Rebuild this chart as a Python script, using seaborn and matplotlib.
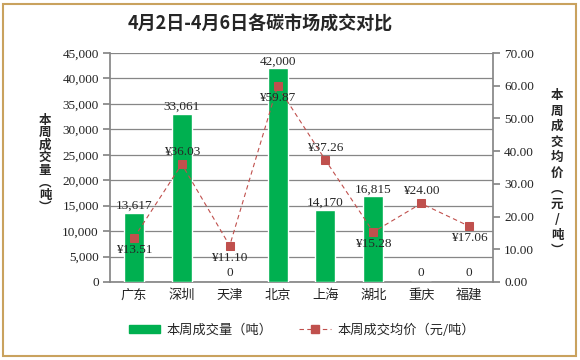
import matplotlib
matplotlib.use("Agg")
import matplotlib.pyplot as plt
import numpy as np
import seaborn as sns
from matplotlib.lines import Line2D
from matplotlib.patches import Patch, Rectangle
from matplotlib.ticker import FuncFormatter, MultipleLocator

# data
markets = ["广东", "深圳", "天津", "北京", "上海", "湖北", "重庆", "福建"]
volume = [13617, 33061, 0, 42000, 14170, 16815, 0, 0]
price = [13.51, 36.03, 11.10, 59.87, 37.26, 15.28, 24.00, 17.06]
price_label_side = ["below", "above", "below", "below", "above", "below", "above", "below"]

sns.set_theme(style="white")
plt.rcParams["font.family"] = ["Noto Sans CJK SC", "DejaVu Sans"]
num_font = "Liberation Serif"

fig = plt.figure(figsize=(5.8, 3.6), dpi=100)
ax = fig.add_axes([110 / 580, 1 - 282 / 360, 383 / 580, 229 / 360])
ax2 = ax.twinx()

green = "#00B050"
red = "#C0504D"
grey = "#868686"

x = np.arange(len(markets))
sns.barplot(x=x, y=volume, color=green, width=0.42, saturation=1, ax=ax, zorder=3)
sns.lineplot(x=x, y=price, ax=ax2, color=red, linestyle=(0, (4, 3)), linewidth=0.8,
             marker="s", markersize=6, markeredgecolor=red, markerfacecolor=red, zorder=4)

ax.set_xlim(-0.5, len(markets) - 0.5)
ax.set_ylim(0, 45000)
ax2.set_ylim(0, 70)
ax.yaxis.set_major_locator(MultipleLocator(5000))
ax2.yaxis.set_major_locator(MultipleLocator(10))
ax.yaxis.set_major_formatter(FuncFormatter(lambda v, p: f"{v:,.0f}"))
ax2.yaxis.set_major_formatter(FuncFormatter(lambda v, p: f"{v:.2f}"))

ax.grid(axis="y", color=grey, linewidth=0.9, zorder=0)
ax.set_axisbelow(True)
for a in (ax, ax2):
    for s in a.spines.values():
        s.set_visible(False)
ax.spines["left"].set_visible(True)
ax.spines["left"].set_color(grey)
ax.spines["bottom"].set_visible(True)
ax.spines["bottom"].set_color(grey)
ax2.spines["right"].set_visible(True)
ax2.spines["right"].set_color(grey)

ax.set_xticks(x)
ax.set_xticklabels(markets, fontsize=9.5, color="#222222")
ax.set_xticks(np.arange(len(markets) + 1) - 0.5, minor=True)
ax.tick_params(axis="x", which="major", length=0, pad=5)
ax.tick_params(axis="x", which="minor", length=5, color=grey, direction="out")
ax.tick_params(axis="y", length=5, color=grey, direction="out", left=True, pad=3)
ax2.tick_params(axis="y", length=5, color=grey, direction="out", right=True, pad=3)
for lab in ax.get_yticklabels() + ax2.get_yticklabels():
    lab.set_fontfamily(num_font)
    lab.set_fontsize(9.5)
    lab.set_color("#222222")
ax.set_xlabel("")
ax.set_ylabel("")
ax2.set_ylabel("")

# bar value labels
for xi, v in zip(x, volume):
    off = 7 if v > 0 else 9
    ax.annotate(f"{v:,}", (xi, v), xytext=(0, off), textcoords="offset pixels",
                ha="center", va="center", fontfamily=num_font, fontsize=9.5)

# price labels
for xi, p, side in zip(x, price, price_label_side):
    off = 12 if side == "above" else -12
    ax2.annotate(f"¥{p:.2f}", (xi, p), xytext=(0, off), textcoords="offset pixels",
                 ha="center", va="center", fontfamily=num_font, fontsize=9.5, zorder=5)

# titles
fig.text(260 / 580, 1 - 24 / 360, "4月2日-4月6日各碳市场成交对比", ha="center", va="center",
         fontsize=13, fontweight="bold", family=["Noto Sans CJK SC", "DejaVu Sans"])
fig.text(45 / 580, 1 - 164 / 360, "\n".join("本周成交量︵吨︶"), ha="center", va="center",
         fontsize=9, fontweight="bold", linespacing=0.95)
fig.text(557 / 580, 1 - 173 / 360, "\n".join("本周成交均价︵元/吨︶"), ha="center", va="center",
         fontsize=9, fontweight="bold", linespacing=1.25)

handles = [Patch(facecolor=green, edgecolor=green),
           Line2D([0], [0], color=red, linestyle=(0, (4, 3)), linewidth=0.8,
                  marker="s", markersize=6, markerfacecolor=red, markeredgecolor=red)]
fig.legend(handles, ["本周成交量（吨）", "本周成交均价（元/吨）"], loc="center",
           bbox_to_anchor=(302 / 580, 1 - 330 / 360), ncol=2, frameon=False,
           fontsize=9.5, handlelength=2.4, handleheight=0.6, columnspacing=2.0,
           handletextpad=0.5)

fig.patches.append(Rectangle((3 / 580, 4 / 360), 573 / 580, 352 / 360,
                             transform=fig.transFigure, fill=False,
                             edgecolor="#C9A25E", linewidth=1.5))

fig.savefig("out.png", dpi=100)
